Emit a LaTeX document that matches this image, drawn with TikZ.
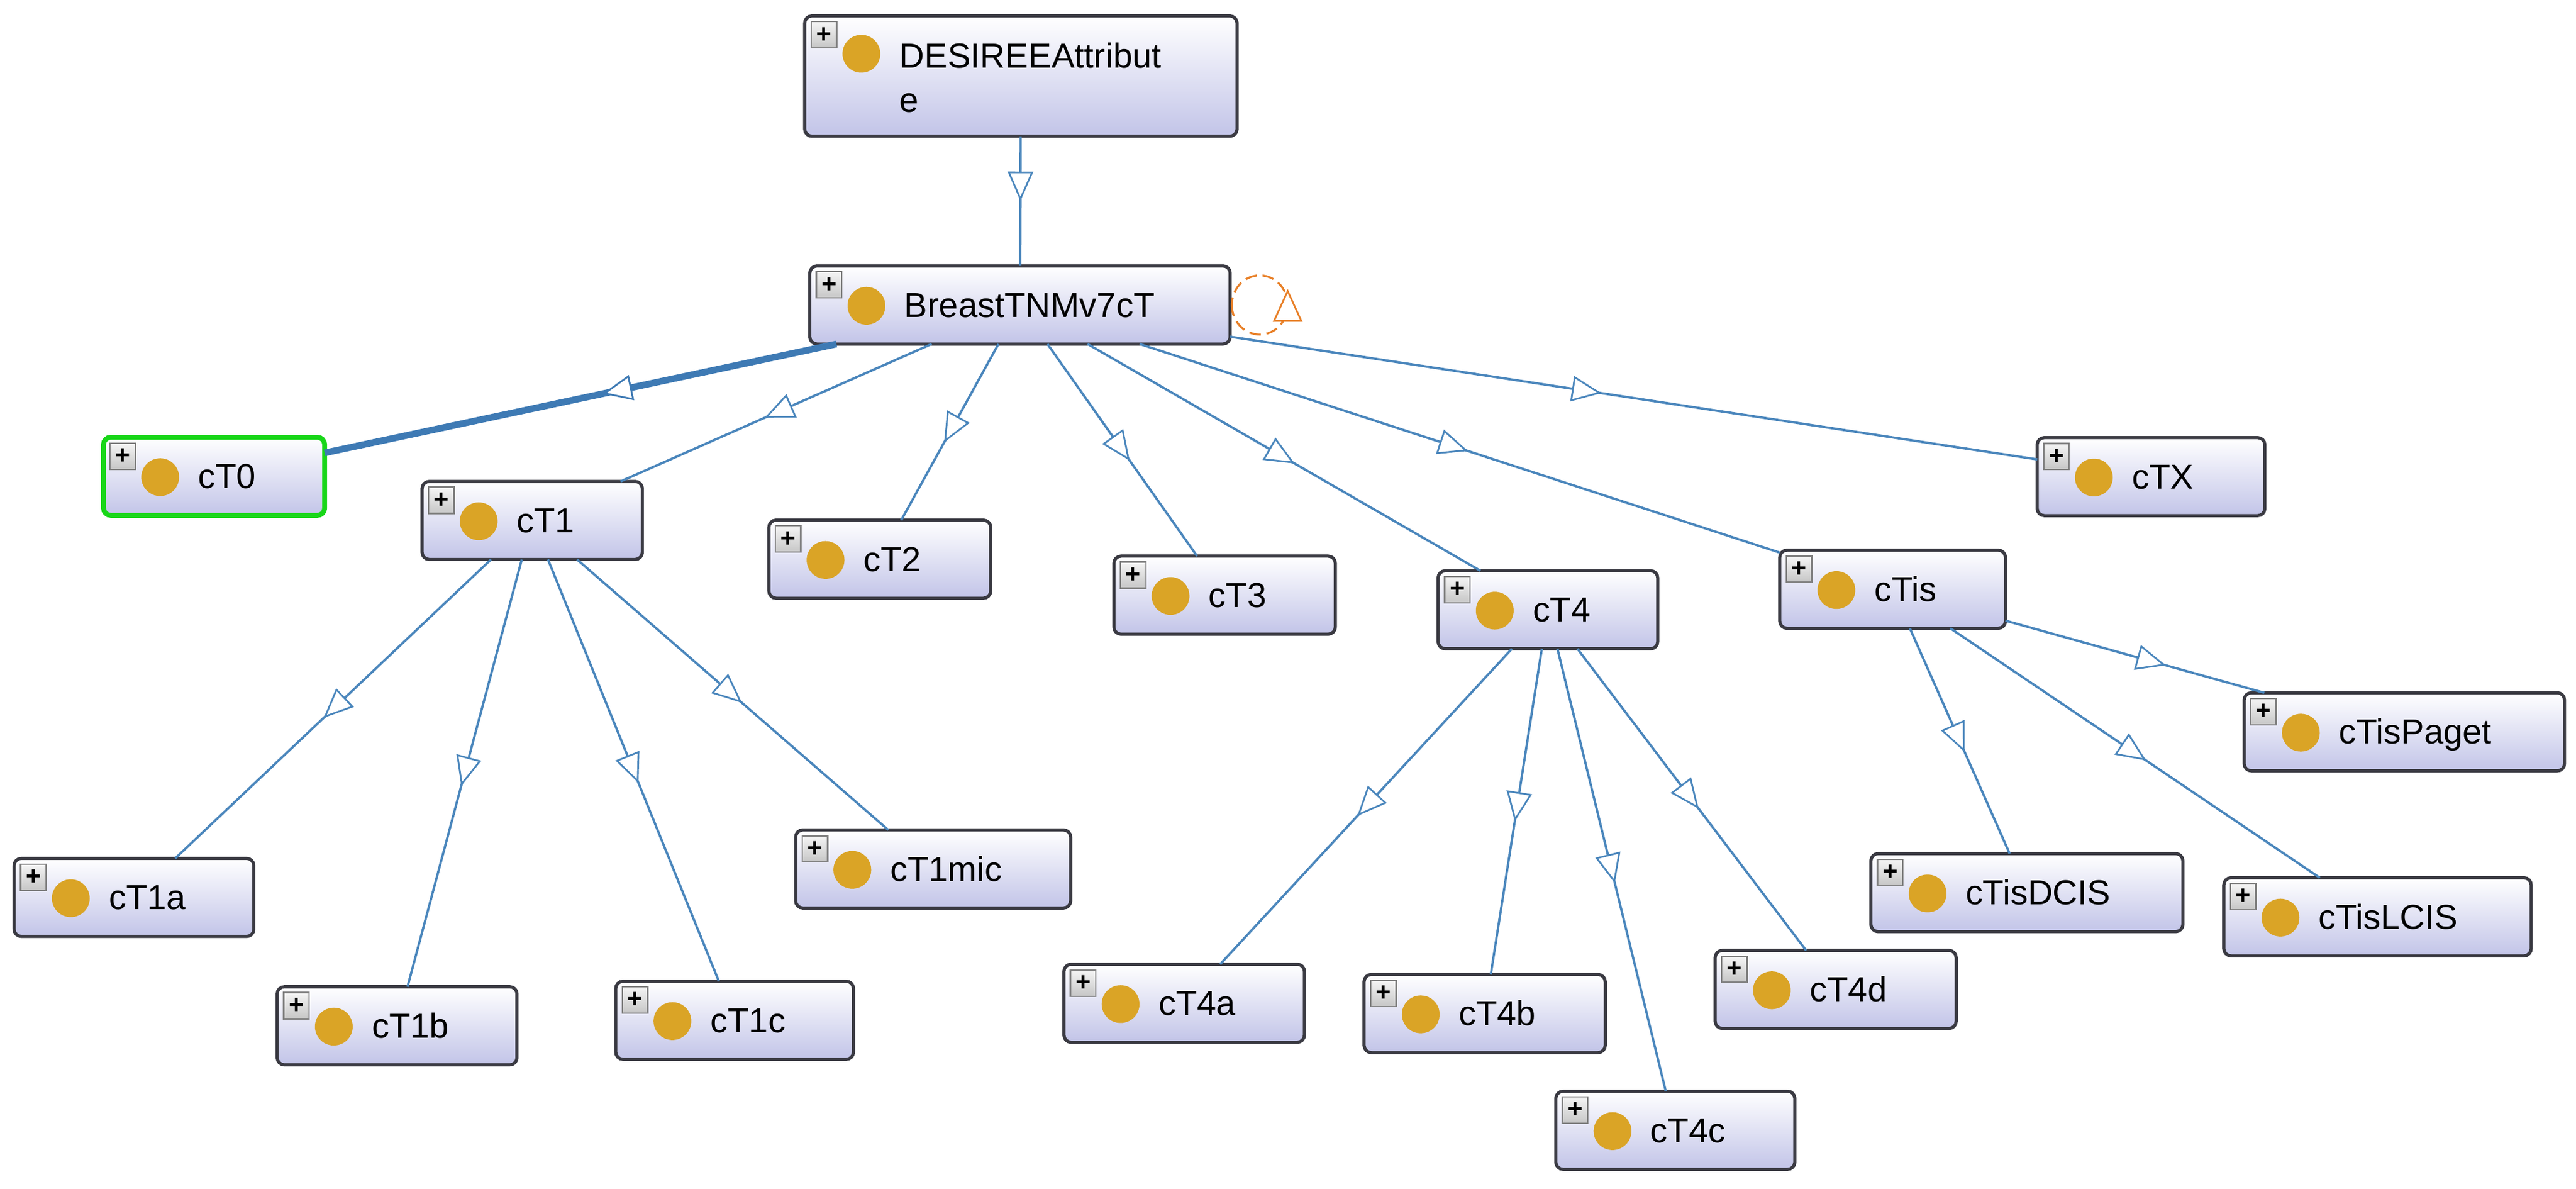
\documentclass[tikz,border=0pt]{standalone}
\usepackage{fontspec}
\setmainfont{Liberation Sans}
\usetikzlibrary{arrows.meta,decorations.markings,calc}

\definecolor{isablue}{RGB}{74,134,188}
\definecolor{thickblue}{RGB}{62,122,180}
\definecolor{boxline}{RGB}{58,58,66}
\definecolor{boxlow}{RGB}{194,196,232}
\definecolor{gold}{RGB}{218,164,38}
\definecolor{selgreen}{RGB}{24,214,24}
\definecolor{loopor}{RGB}{232,128,40}

\tikzset{
  cls/.style={rectangle, rounded corners=2.5pt, draw=boxline, line width=1.1pt, top color=white, bottom color=boxlow, minimum height=47.5*0.02cm, inner sep=0pt, outer sep=0pt},
  sel/.style={draw=selgreen, line width=1.7pt},
  plusbox/.style={rectangle, draw=gray, line width=0.5pt, top color=gray!8, bottom color=gray!45, minimum width=0.31cm, minimum height=0.32cm, inner sep=0pt, font=\fontsize{9}{9}\selectfont\bfseries},
  dot/.style={circle, fill=gold, minimum size=0.46cm, inner sep=0pt},
  lbl/.style={inner sep=0pt, font=\fontsize{12}{15.4}\selectfont},
  isa/.style={color=isablue, line width=0.8pt, postaction={decorate, decoration={markings, mark=at position #1 with {\arrow{Triangle[fill=white, length=0.36cm, width=0.31cm, line width=0.6pt]}}}}},
  isa/.default=0.53,
  thickisa/.style={color=thickblue, line width=2.3pt},
  selfloop/.style={color=loopor, line width=0.7pt, dash pattern=on 4pt off 2pt}
}

\begin{document}
\begin{tikzpicture}[x=0.02cm, y=-0.02cm]
\useasboundingbox (0,0) rectangle (1568,723.4);

\node[cls, minimum width=263.2*0.02cm, minimum height=73.2*0.02cm] (DESIREEAttribute) at (621.4,46.3) {};
\node[plusbox] (DESIREEAttribute-p) at ([shift={(11.75,11.5)}]DESIREEAttribute.north west) {+};
\node[dot] (DESIREEAttribute-d) at ([shift={(34.5,23)}]DESIREEAttribute.north west) {};
\node[lbl, anchor=north west, align=left] (DESIREEAttribute-t) at ([shift={(57.4,15.9)}]DESIREEAttribute.north west) {DESIREEAttribut\\e};

\node[cls, sel, minimum width=134.6*0.02cm] (cT0) at (130.3,289.8) {};
\node[plusbox] (cT0-p) at ([shift={(11.75,11.5)}]cT0.north west) {+};
\node[dot] (cT0-d) at ([shift={(34.5,0.5)}]cT0.west) {};
\node[lbl, anchor=base west] (cT0-t) at ([shift={(57.3,7.4)}]cT0.west) {cT0};

\foreach \n/\x/\y/\w in {BreastTNMv7cT/620.85/185.55/255.9, cT1/323.95/316.65/134.1,
  cT2/535.5/340.2/135, cT3/745.4/362.1/134.8, cT4/942.2/371/133.7, cTis/1152/358.5/137.4,
  cTX/1309.3/290/138.6, cT1a/81.55/546/145.9, cT1b/241.7/624.1/146, cT1c/447.15/620.75/144.7,
  cT1mic/568/528.7/167.4, cT4a/720.8/610.4/146.4, cT4b/903.7/616.65/146.8,
  cT4c/1019.75/687.7/145.5, cT4d/1117.35/602/146.7, cTisDCIS/1233.75/543.1/189.9,
  cTisLCIS/1447.15/557.8/187.1, cTisPaget/1463.5/445.25/195}
{
  \node[cls, minimum width=\w*0.02cm] (\n) at (\x,\y) {};
  \node[plusbox] (\n-p) at ([shift={(11.75,11.5)}]\n.north west) {+};
  \node[dot] (\n-d) at ([shift={(34.5,0.5)}]\n.west) {};
  \node[lbl, anchor=base west] (\n-t) at ([shift={(57.3,7.4)}]\n.west) {\n};
}

\path (DESIREEAttribute) edge[isa=0.5] (BreastTNMv7cT);
\path (BreastTNMv7cT) edge[isa=0.457, thickisa] (cT0);
\path (BreastTNMv7cT) edge[isa=0.537] (cT1);
\path (BreastTNMv7cT) edge[isa=0.56] (cT2);
\path (BreastTNMv7cT) edge[isa=0.55] (cT3);
\path (BreastTNMv7cT) edge[isa=0.527] (cT4);
\path (BreastTNMv7cT) edge[isa=0.513] (cTis);
\path (BreastTNMv7cT) edge[isa=0.46] (cTX);
\path (cT1) edge[isa] (cT1a);
\path (cT1) edge[isa] (cT1b);
\path (cT1) edge[isa] (cT1c);
\path (cT1) edge[isa] (cT1mic);
\path (cT4) edge[isa] (cT4a);
\path (cT4) edge[isa] (cT4b);
\path (cT4) edge[isa] (cT4c);
\path (cT4) edge[isa] (cT4d);
\path (cTis) edge[isa=0.55] (cTisDCIS);
\path (cTis) edge[isa] (cTisLCIS);
\path (cTis) edge[isa=0.62] (cTisPaget);

\draw[selfloop, postaction={decorate, decoration={markings, mark=at position 0.5 with {\arrow[xshift=0.195cm]{Triangle[fill=white, length=0.4cm, width=0.36cm, line width=0.6pt]}}}}]
  ($(BreastTNMv7cT.east)+(1,0)$) arc[start angle=180, end angle=-180, x radius=17, y radius=18];

\end{tikzpicture}
\end{document}
